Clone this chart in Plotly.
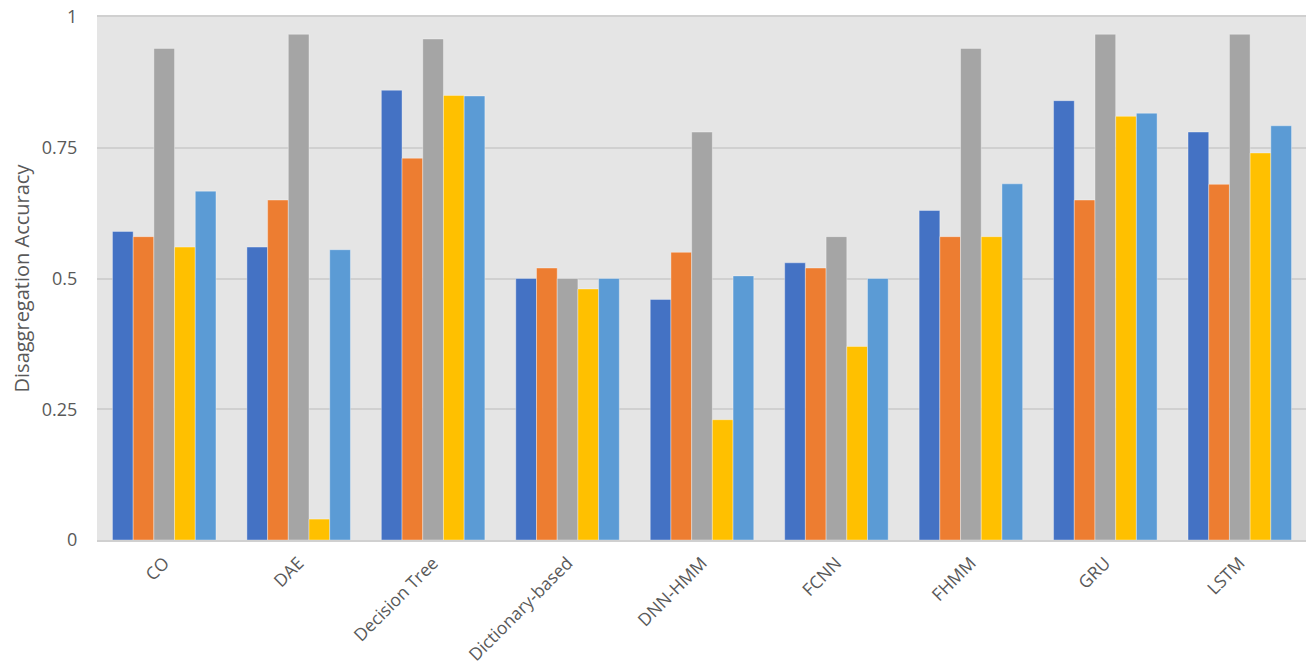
import plotly.graph_objects as go

categories = ["CO", "DAE", "Decision Tree", "Dictionary-based", "DNN-HMM", "FCNN", "FHMM", "GRU", "LSTM"]
series_names = ["Series 1", "Series 2", "Series 3", "Series 4", "Series 5"]
s1 = [0.59, 0.56, 0.86, 0.50, 0.46, 0.53, 0.63, 0.84, 0.78]
s2 = [0.58, 0.65, 0.73, 0.52, 0.55, 0.52, 0.58, 0.65, 0.68]
s3 = [0.94, 0.967, 0.958, 0.50, 0.78, 0.58, 0.94, 0.967, 0.967]
s4 = [0.56, 0.04, 0.85, 0.48, 0.23, 0.37, 0.58, 0.81, 0.74]
s5 = [0.667, 0.555, 0.849, 0.50, 0.505, 0.50, 0.681, 0.816, 0.792]
series_values = [s1, s2, s3, s4, s5]
colors = ["#4472C4", "#ED7D31", "#A5A5A5", "#FFC000", "#5B9BD5"]
y_ticks = [0, 0.25, 0.5, 0.75, 1]
y_tick_labels = ["0", "0.25", "0.5", "0.75", "1"]

fig = go.Figure()
for name, vals, col in zip(series_names, series_values, colors):
    fig.add_trace(go.Bar(
        x=categories, y=vals, name=name,
        marker=dict(color=col, line=dict(color="rgba(255,255,255,0.35)", width=1)),
    ))

fig.update_layout(
    width=1306, height=656,
    margin=dict(l=89, r=7, t=9, b=124, autoexpand=False),
    barmode="group", bargap=0.23, bargroupgap=0,
    plot_bgcolor="#e5e5e5", paper_bgcolor="white",
    showlegend=False,
    font=dict(family="Open Sans", color="#595959", size=18),
    yaxis=dict(
        range=[0, 1], tickvals=y_ticks, ticktext=y_tick_labels,
        gridcolor="#d0d0d0", gridwidth=1.5, zeroline=False,
        showline=False, ticks="outside", ticklen=15, tickcolor="rgba(0,0,0,0)",
        ticklabeloverflow="allow",
        title=dict(text="Disaggregation Accuracy", font=dict(size=20), standoff=8),
        tickfont=dict(size=18),
    ),
    xaxis=dict(
        tickangle=-45, showline=True, mirror=True, linecolor="#d0d0d0", linewidth=2,
        ticks="outside", ticklen=4, tickcolor="rgba(0,0,0,0)",
        ticklabeloverflow="allow",
        tickfont=dict(size=17.5),
    ),
)

fig.write_html("out.html")
